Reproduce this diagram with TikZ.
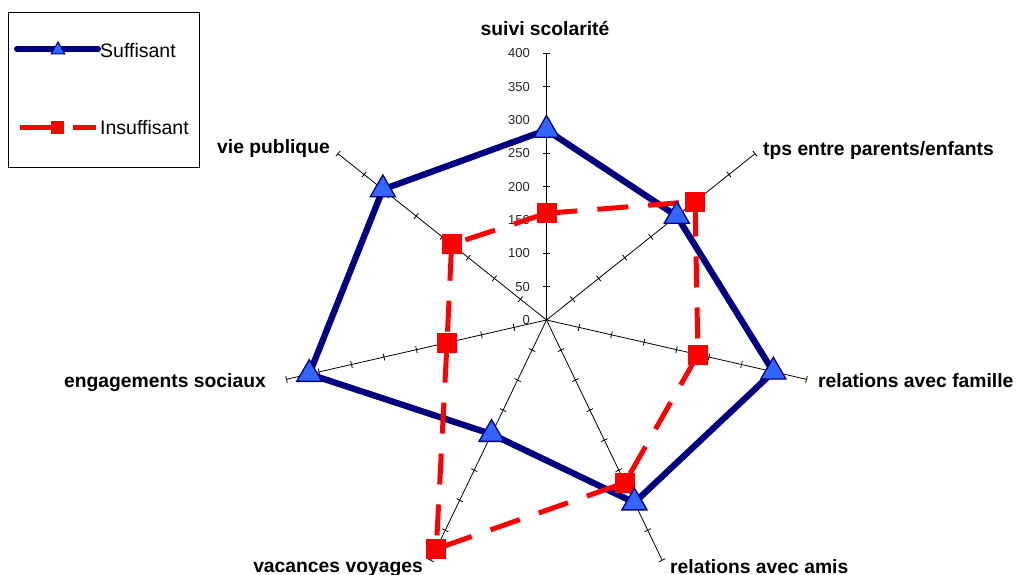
\documentclass[tikz,border=0pt]{standalone}
\usepackage{fontspec}
\setmainfont{Liberation Sans}
\usetikzlibrary{shapes.geometric}
\definecolor{suffline}{RGB}{0,0,128}
\definecolor{sufffill}{RGB}{51,102,255}
\definecolor{insuff}{RGB}{255,0,0}
\begin{document}
\begin{tikzpicture}[x=1pt,y=1pt,
  axisline/.style={draw=black,line width=0.8pt},
  ticklbl/.style={inner sep=0pt,font=\fontsize{13}{15}\selectfont,text=black!85},
  axlbl/.style={inner sep=0pt,font=\fontsize{19.3}{23}\selectfont\bfseries},
  leglbl/.style={inner sep=0pt,font=\fontsize{19.5}{23}\selectfont},
  suffpath/.style={draw=suffline,line width=6.3pt,line join=round},
  insuffpath/.style={draw=insuff,line width=5pt,line join=miter,dash pattern=on 31pt off 20pt},
  trimark/.style={regular polygon,regular polygon sides=3,minimum size=29pt,inner sep=0pt,fill=sufffill,draw=suffline,line width=1.3pt},
  sqmark/.style={rectangle,minimum size=20pt,inner sep=0pt,fill=insuff},
  legtri/.style={regular polygon,regular polygon sides=3,minimum size=16pt,inner sep=0pt,fill=sufffill,draw=suffline,line width=1pt},
  legsq/.style={rectangle,minimum size=13pt,inner sep=0pt,fill=insuff},
]
\useasboundingbox (0,0) rectangle (1020,575);
\clip (0,0) rectangle (1020,575);
\coordinate (O) at (546.5,255);
\def\u{0.66675}
% axes with ticks
\foreach \k in {0,...,6} {
  \pgfmathsetmacro\ang{90-\k*360/7}
  \coordinate (end\k) at ([shift={(O)}]\ang:{400*\u});
  \draw[axisline] (O) -- (end\k);
  \foreach \t in {1,...,8} {
    \coordinate (tk\k-\t) at ([shift={(O)}]\ang:{\t*50*\u});
    \draw[axisline] (tk\k-\t) ++({\ang+90}:3.5) -- ++({\ang-90}:7);
  }
}
% scale labels
\foreach \t in {0,50,...,400} {
  \node[ticklbl,anchor=east] (tl\t) at (530,{255+\t*\u}) {\t};
}
% axis labels
\node[axlbl,anchor=base] (l0) at (545,539) {suivi scolarité};
\node[axlbl,anchor=base west] (l1) at (763,419.5) {tps entre parents/enfants};
\node[axlbl,anchor=base west] (l2) at (818,187) {relations avec famille};
\node[axlbl,anchor=base west] (l3) at (670,1) {relations avec amis};
\node[axlbl,anchor=base east] (l4) at (423,2) {vacances voyages};
\node[axlbl,anchor=base east] (l5) at (266,187) {engagements sociaux};
\node[axlbl,anchor=base east] (l6) at (330,421) {vie publique};
% data points
\foreach \v [count=\i from 0] in {285,250,349,304,190,365,314} {
  \coordinate (s\i) at ([shift={(O)}]{90-\i*360/7}:{\v*\u});
}
\foreach \v [count=\i from 0] in {160,285,233,271,381,153,182} {
  \coordinate (i\i) at ([shift={(O)}]{90-\i*360/7}:{\v*\u});
}
\draw[suffpath] (s0) -- (s1) -- (s2) -- (s3) -- (s4) -- (s5) -- (s6) -- cycle;
\draw[insuffpath] (i0) -- (i1) -- (i2) -- (i3) -- (i4) -- (i5) -- (i6) -- cycle;
\foreach \i in {0,...,6} { \node[sqmark] (im\i) at (i\i) {}; }
\foreach \i in {0,...,6} { \node[trimark] (sm\i) at (s\i) {}; }
% legend
\node[draw=black,line width=0.8pt,minimum width=191pt,minimum height=155.6pt,inner sep=0pt,anchor=south west] (legbox) at (8.3,406.7) {};
\coordinate (la) at (17,526);
\coordinate (lb) at (98,526);
\draw[draw=suffline,line width=6pt,line cap=round] (la) -- (lb);
\node[legtri] (lt) at (58,525) {};
\node[leglbl,anchor=base west] (ls) at (100,517) {Suffisant};
\coordinate (ra) at (20,447.5);
\coordinate (rb) at (62,447.5);
\coordinate (rc) at (73,447.5);
\coordinate (rd) at (96,447.5);
\draw[draw=insuff,line width=5pt] (ra) -- (rb) (rc) -- (rd);
\node[legsq] (lq) at (57.5,447.5) {};
\node[leglbl,anchor=base west] (li) at (100,440) {Insuffisant};
\end{tikzpicture}
\end{document}
